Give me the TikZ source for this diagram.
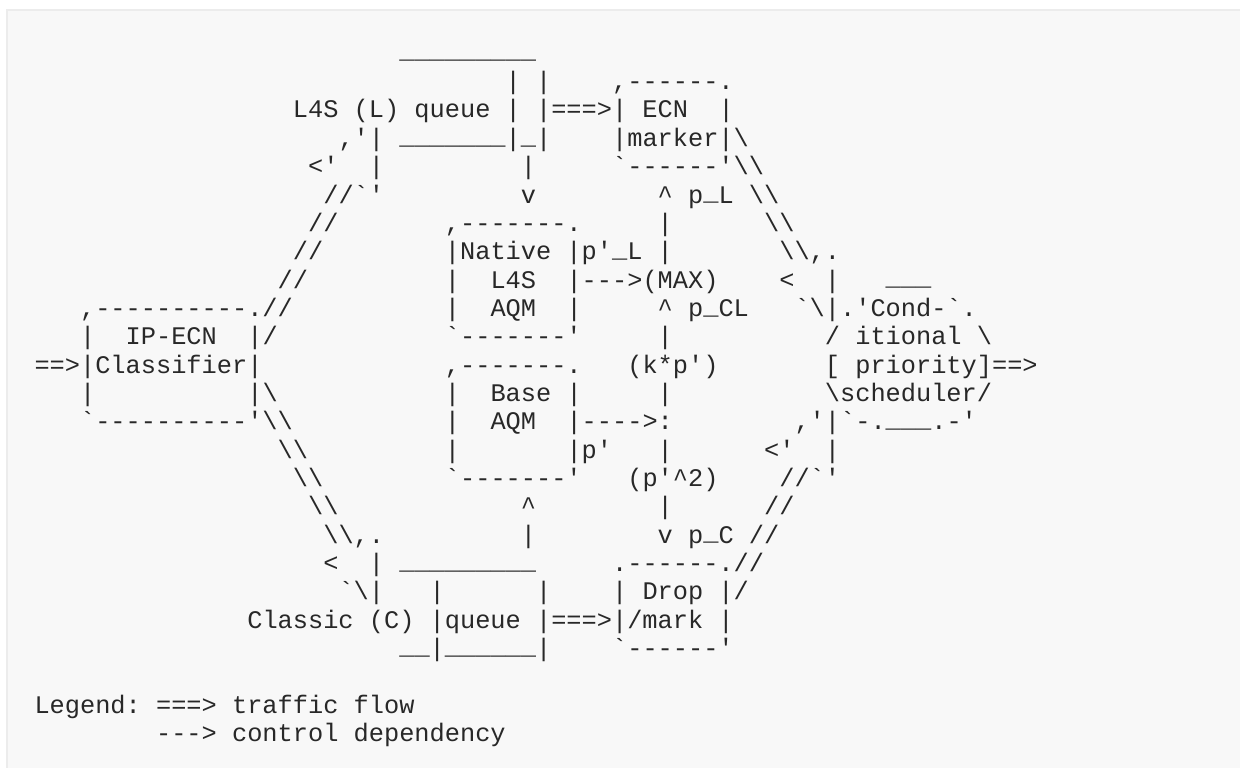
\documentclass[tikz,border=0pt]{standalone}
\usepackage{fontspec}
\newfontfamily\asciifont[Ligatures=TeXOff]{Liberation Mono}
\definecolor{ink}{RGB}{40,40,40}
\definecolor{panel}{RGB}{248,248,248}
\definecolor{rim}{RGB}{236,236,236}
\newcommand\bs{\textbackslash}
\newcommand\us{\raisebox{0.09em}{\_}}
\newcommand\ca{\textasciicircum}
\frenchspacing
\tikzset{txt/.style={font={\asciifont\fontsize{12.665}{15}\selectfont}, text=ink,
  inner sep=0pt, outer sep=0pt, anchor=base west}}
\newcommand\T[4]{\node[txt] (#1) at ({34.5+15.2*#2},{61.25+28.35*#3}) {#4};}
\begin{document}
\begin{tikzpicture}[x=0.5pt,y=-0.5pt]
\useasboundingbox (0,0) rectangle (1240,767);
\begin{scope}
\clip (0,0) rectangle (1240,767);
\fill[panel, draw=rim, line width=1pt] (7,10) rectangle (1262,790);
\end{scope}
\T{r0a}{24}{0}{\us\us\us\us\us\us\us\us\us}
\T{r1a}{31}{1}{| |}
\T{r1b}{38}{1}{,------.}
\T{r2a}{17}{2}{L4S (L) queue | |===>| ECN}
\T{r2b}{45}{2}{|}
\T{r3a}{20}{3}{,'| \us\us\us\us\us\us\us|\us|}
\T{r3b}{38}{3}{|marker|\bs}
\T{r4a}{18}{4}{<'}
\T{r4b}{22}{4}{|}
\T{r4c}{32}{4}{|}
\T{r4d}{38}{4}{`------'\bs\bs}
\T{r5a}{19}{5}{//`'}
\T{r5b}{32}{5}{v}
\T{r5c}{41}{5}{\ca{} p\us L \bs\bs}
\T{r6a}{18}{6}{//}
\T{r6b}{27}{6}{,-------.}
\T{r6c}{41}{6}{|}
\T{r6d}{48}{6}{\bs\bs}
\T{r7a}{17}{7}{//}
\T{r7b}{27}{7}{|Native |p'\us L |}
\T{r7c}{49}{7}{\bs\bs,.}
\T{r8a}{16}{8}{//}
\T{r8b}{27}{8}{|}
\T{r8c}{30}{8}{L4S}
\T{r8d}{35}{8}{|--->(MAX)}
\T{r8e}{49}{8}{<}
\T{r8f}{52}{8}{|}
\T{r8g}{56}{8}{\us\us\us}
\T{r9a}{3}{9}{,----------.//}
\T{r9b}{27}{9}{|}
\T{r9c}{30}{9}{AQM}
\T{r9d}{35}{9}{|}
\T{r9e}{41}{9}{\ca{} p\us CL}
\T{r9f}{50}{9}{`\bs|.'Cond-`.}
\T{r10a}{3}{10}{|}
\T{r10b}{6}{10}{IP-ECN}
\T{r10c}{14}{10}{|/}
\T{r10d}{27}{10}{`-------'}
\T{r10e}{41}{10}{|}
\T{r10f}{52}{10}{/ itional \bs}
\T{r11a}{0}{11}{==>|Classifier|}
\T{r11b}{27}{11}{,-------.}
\T{r11c}{39}{11}{(k*p')}
\T{r11d}{52}{11}{[ priority]==>}
\T{r12a}{3}{12}{|}
\T{r12b}{14}{12}{|\bs}
\T{r12c}{27}{12}{|}
\T{r12d}{30}{12}{Base |}
\T{r12e}{41}{12}{|}
\T{r12f}{52}{12}{\bs scheduler/}
\T{r13a}{3}{13}{`----------'\bs\bs}
\T{r13b}{27}{13}{|}
\T{r13c}{30}{13}{AQM}
\T{r13d}{35}{13}{|---->:}
\T{r13e}{50}{13}{,'|`-.\us\us\us.-'}
\T{r14a}{16}{14}{\bs\bs}
\T{r14b}{27}{14}{|}
\T{r14c}{35}{14}{|p'}
\T{r14d}{41}{14}{|}
\T{r14e}{48}{14}{<'}
\T{r14f}{52}{14}{|}
\T{r15a}{17}{15}{\bs\bs}
\T{r15b}{27}{15}{`-------'}
\T{r15c}{39}{15}{(p'\ca2)}
\T{r15d}{49}{15}{//`'}
\T{r16a}{18}{16}{\bs\bs}
\T{r16b}{32}{16}{\ca}
\T{r16c}{41}{16}{|}
\T{r16d}{48}{16}{//}
\T{r17a}{19}{17}{\bs\bs,.}
\T{r17b}{32}{17}{|}
\T{r17c}{41}{17}{v p\us C //}
\T{r18a}{19}{18}{<}
\T{r18b}{22}{18}{| \us\us\us\us\us\us\us\us\us}
\T{r18c}{38}{18}{.------.//}
\T{r19a}{20}{19}{`\bs|}
\T{r19b}{26}{19}{|}
\T{r19c}{33}{19}{|}
\T{r19d}{38}{19}{| Drop |/}
\T{r20a}{14}{20}{Classic (C) |queue |===>|/mark |}
\T{r21a}{24}{21}{\us\us|\us\us\us\us\us\us|}
\T{r21b}{38}{21}{`------'}
\T{r23a}{0}{23}{Legend: ===> traffic flow}
\T{r24a}{8}{24}{---> control dependency}
\end{tikzpicture}
\end{document}
